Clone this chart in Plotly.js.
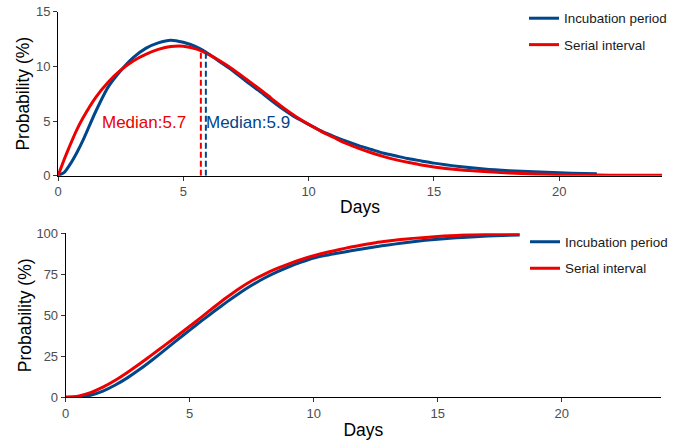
<!DOCTYPE html>
<html>
<head>
<meta charset="utf-8">
<script src="https://cdn.plot.ly/plotly-3.0.1.min.js"></script>
<style>
html,body{margin:0;padding:0;background:#fff;}
#chart{width:681px;height:440px;}
</style>
</head>
<body>
<div id="chart"></div>
<script>
// ---- Data ----
var seriesNames = ["Incubation period", "Serial interval"];

// Top panel: probability density (%) by day
var incubDays = [0,0.25,0.5,0.75,1,1.5,2,2.5,3,3.5,4,4.5,5,5.5,6,6.5,7,7.5,8,8.5,9,9.5,10,10.5,11,11.5,12,12.5,13,13.5,14,14.5,15,16,17,18,19,20,21,21.5];
var incubPdf  = [0,0.3,1.1,2.1,3.25,5.85,8.1,9.6,10.8,11.65,12.15,12.4,12.2,11.8,11.15,10.35,9.55,8.65,7.8,6.9,6.05,5.3,4.7,4.1,3.6,3.15,2.75,2.4,2.05,1.8,1.55,1.35,1.15,0.85,0.62,0.46,0.35,0.27,0.2,0.17];

var serialDays = [0,0.25,0.5,0.75,1,1.5,2,2.5,3,3.5,4,4.5,5,5.5,6,6.5,7,7.5,8,8.5,9,9.5,10,10.5,11,11.5,12,12.5,13,13.5,14,14.5,15,16,17,18,19,20,21,22,23,24.1];
var serialPdf  = [0,1.5,2.9,4.2,5.3,7.15,8.55,9.65,10.5,11.1,11.55,11.82,11.85,11.6,11.1,10.45,9.7,8.85,8.0,7.1,6.2,5.4,4.7,4.05,3.5,2.95,2.5,2.1,1.75,1.45,1.2,0.98,0.8,0.55,0.38,0.25,0.16,0.1,0.07,0.05,0.04,0.03];

// Medians
var incubMedian = 5.9, incubMedianTop = 11.28;
var serialMedian = 5.7, serialMedianTop = 11.4;
var incubLabel = "Median:5.9", serialLabel = "Median:5.7";
var labelY = 4.9;

// Bottom panel: cumulative probability (%) by day
var cdfDays = [0,0.5,1,1.5,2,2.5,3,3.5,4,4.5,5,5.5,6,6.5,7,7.5,8,8.5,9,9.5,10,10.5,11,11.5,12,12.5,13,13.5,14,14.5,15,15.5,16,17,18.3];
var incubCdf  = [0,0.2,1.3,3.8,7.5,12.0,17.2,22.9,28.9,35.0,41.0,46.9,52.6,58.2,63.5,68.3,72.6,76.3,79.6,82.4,84.9,86.6,88.0,89.3,90.6,91.8,92.9,93.9,94.9,95.7,96.4,97.0,97.5,98.3,99.0];
var serialCdf = [0,0.7,2.8,6.2,10.4,15.3,20.6,26.2,31.8,37.5,43.3,49.2,55.2,61.0,66.4,71.1,75.0,78.4,81.4,84.0,86.3,88.3,90.0,91.6,93.0,94.3,95.3,96.2,96.9,97.5,98.1,98.5,98.9,99.3,99.6];

var xTicks = [0,5,10,15,20];
var yTicksTop = [0,5,10,15];
var yTicksBottom = [0,25,50,75,100];

// ---- Styling ----
var BLUE = "#00468B", RED = "#ED0000";
var FONT = "Liberation Sans, Arial, sans-serif";
var W = 681, H = 440;

var traces = [
  {x: incubDays, y: incubPdf, type: "scatter", mode: "lines", name: seriesNames[0],
   line: {color: BLUE, width: 3, shape: "spline", smoothing: 0.6}, xaxis: "x", yaxis: "y", legend: "legend", legendgroup: "a1"},
  {x: serialDays, y: serialPdf, type: "scatter", mode: "lines", name: seriesNames[1],
   line: {color: RED, width: 3, shape: "spline", smoothing: 0.6}, xaxis: "x", yaxis: "y", legend: "legend", legendgroup: "a2"},
  {x: [serialMedian, serialMedian], y: [0, serialMedianTop], type: "scatter", mode: "lines", showlegend: false,
   line: {color: RED, width: 2, dash: "6px,3px"}, xaxis: "x", yaxis: "y", hoverinfo: "skip"},
  {x: [incubMedian, incubMedian], y: [0, incubMedianTop], type: "scatter", mode: "lines", showlegend: false,
   line: {color: BLUE, width: 2, dash: "6px,3px"}, xaxis: "x", yaxis: "y", hoverinfo: "skip"},
  {x: cdfDays, y: incubCdf, type: "scatter", mode: "lines", name: seriesNames[0],
   line: {color: BLUE, width: 3, shape: "spline", smoothing: 0.6}, xaxis: "x2", yaxis: "y2", legend: "legend2", legendgroup: "b1"},
  {x: cdfDays, y: serialCdf, type: "scatter", mode: "lines", name: seriesNames[1],
   line: {color: RED, width: 3, shape: "spline", smoothing: 0.6}, xaxis: "x2", yaxis: "y2", legend: "legend2", legendgroup: "b2"}
];

function px2fx(p){ return p / W; }
function px2fy(p){ return 1 - p / H; }

var axisCommon = {
  showline: true, linecolor: "#000", linewidth: 1,
  ticks: "outside", ticklen: 4, tickwidth: 1, tickcolor: "#333",
  showgrid: false, zeroline: false,
  tickfont: {family: FONT, size: 13, color: "#4D4D4D"},
  fixedrange: true
};
function ax(extra){ var o = {}; for (var k in axisCommon) o[k] = axisCommon[k]; for (var k2 in extra) o[k2] = extra[k2]; return o; }

var legendCommon = {
  font: {family: FONT, size: 13.4, color: "#1a1a1a"},
  bgcolor: "rgba(0,0,0,0)", borderwidth: 0,
  xanchor: "left", yanchor: "top", tracegroupgap: 6, itemclick: false
};
function lg(extra){ var o = {}; for (var k in legendCommon) o[k] = legendCommon[k]; for (var k2 in extra) o[k2] = extra[k2]; return o; }

var layout = {
  width: W, height: H,
  margin: {l: 0, r: 0, t: 0, b: 0},
  paper_bgcolor: "#fff", plot_bgcolor: "#fff",
  font: {family: FONT},
  xaxis: ax({domain: [px2fx(58), px2fx(662)], range: [0, 24.1], tickvals: xTicks, anchor: "y",
    title: {text: "Days", font: {family: FONT, size: 17.5, color: "#000"}, standoff: 2}}),
  yaxis: ax({domain: [px2fy(175.7), px2fy(11.7)], range: [0, 15], tickvals: yTicksTop, anchor: "x",
    title: {text: "Probability (%)", font: {family: FONT, size: 17.5, color: "#000"}, standoff: 1}}),
  xaxis2: ax({domain: [px2fx(65.7), px2fx(661)], range: [0, 24], tickvals: xTicks, anchor: "y2",
    title: {text: "Days", font: {family: FONT, size: 17.5, color: "#000"}, standoff: 3}}),
  yaxis2: ax({domain: [px2fy(397.3), px2fy(233.3)], range: [0, 100], tickvals: yTicksBottom, anchor: "x2",
    title: {text: "Probability (%)", font: {family: FONT, size: 17.5, color: "#000"}, standoff: 0}}),
  legend: lg({x: px2fx(524), y: px2fy(3)}),
  legend2: lg({x: px2fx(525), y: px2fy(226.5)}),
  annotations: [
    {x: serialMedian - 0.5, y: labelY, xref: "x", yref: "y", text: serialLabel, showarrow: false,
     xanchor: "right", yanchor: "middle", font: {family: FONT, size: 17, color: RED}},
    {x: incubMedian - 0.08, y: labelY, xref: "x", yref: "y", text: incubLabel, showarrow: false,
     xanchor: "left", yanchor: "middle", font: {family: FONT, size: 17, color: BLUE}}
  ],
  showlegend: true
};

Plotly.newPlot("chart", traces, layout, {displayModeBar: false, staticPlot: true});
</script>
</body>
</html>
